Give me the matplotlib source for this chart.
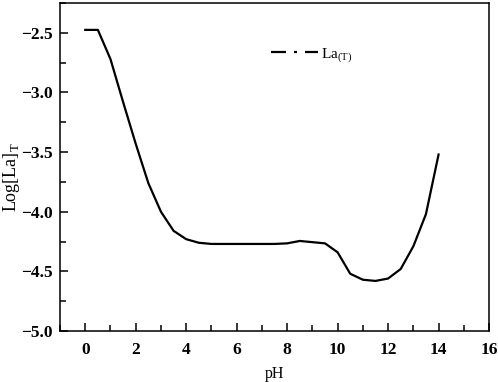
# La total solubility vs pH
import matplotlib
matplotlib.use("Agg")
import matplotlib.pyplot as plt
from matplotlib.lines import Line2D
from matplotlib.ticker import MultipleLocator

plt.rcParams["font.family"] = ["Liberation Serif", "DejaVu Serif"]
plt.rcParams["mathtext.fontset"] = "custom"
plt.rcParams["mathtext.rm"] = "Liberation Serif"

ph = [0, 0.5, 1.0, 1.5, 2.0, 2.5, 3.0, 3.5, 4.0, 4.5, 5.0, 5.5, 6.0, 6.5,
      7.0, 7.5, 8.0, 8.5, 9.0, 9.5, 10.0, 10.5, 11.0, 11.5, 12.0, 12.5,
      13.0, 13.5, 14.0]
log_la = [-2.475, -2.475, -2.72, -3.08, -3.43, -3.76, -4.00, -4.16, -4.23,
          -4.26, -4.27, -4.27, -4.27, -4.27, -4.27, -4.27, -4.265, -4.245,
          -4.255, -4.265, -4.34, -4.52, -4.57, -4.58, -4.56, -4.48, -4.29,
          -4.02, -3.52]

fig = plt.figure(figsize=(4.98, 3.82), dpi=100)
ax = fig.add_axes([0.1205, 0.1335, 0.8615, 0.8585])

ax.plot(ph, log_la, color="black", lw=1.6)

ax.set_xlim(-1, 16)
ax.set_ylim(-5.0, -2.25)
ax.xaxis.set_major_locator(MultipleLocator(2))
ax.xaxis.set_minor_locator(MultipleLocator(1))
ax.yaxis.set_major_locator(MultipleLocator(0.5))
ax.yaxis.set_minor_locator(MultipleLocator(0.25))
ax.tick_params(which="both", direction="in", top=False, right=False, width=1.1)
ax.tick_params(which="major", length=6)
ax.tick_params(which="minor", length=4)
ax.tick_params(axis="x", pad=8)
ax.tick_params(axis="y", pad=5)
for lbl in ax.get_xticklabels() + ax.get_yticklabels():
    lbl.set_fontweight("bold")
    lbl.set_fontsize(12.5)
for sp in ax.spines.values():
    sp.set_linewidth(1.1)

ax.set_xlabel("pH", fontsize=11.5, labelpad=6)
ax.set_ylabel(r"Log[La]$_\mathregular{T}$", fontsize=13)
ax.yaxis.set_label_coords(-0.088, 0.47)

# legend shows dash-dot sample
handle = Line2D([], [], color="black", lw=1.6,
                linestyle=(0, (6.75, 3.6, 1.35, 3.6)))
ax.legend([handle], [r"La$_\mathregular{(T)}$"], loc="upper left",
          bbox_to_anchor=(0.46, 0.91), frameon=False, fontsize=11,
          handlelength=3.1, handletextpad=0.15)

fig.savefig("out.png", dpi=100)
